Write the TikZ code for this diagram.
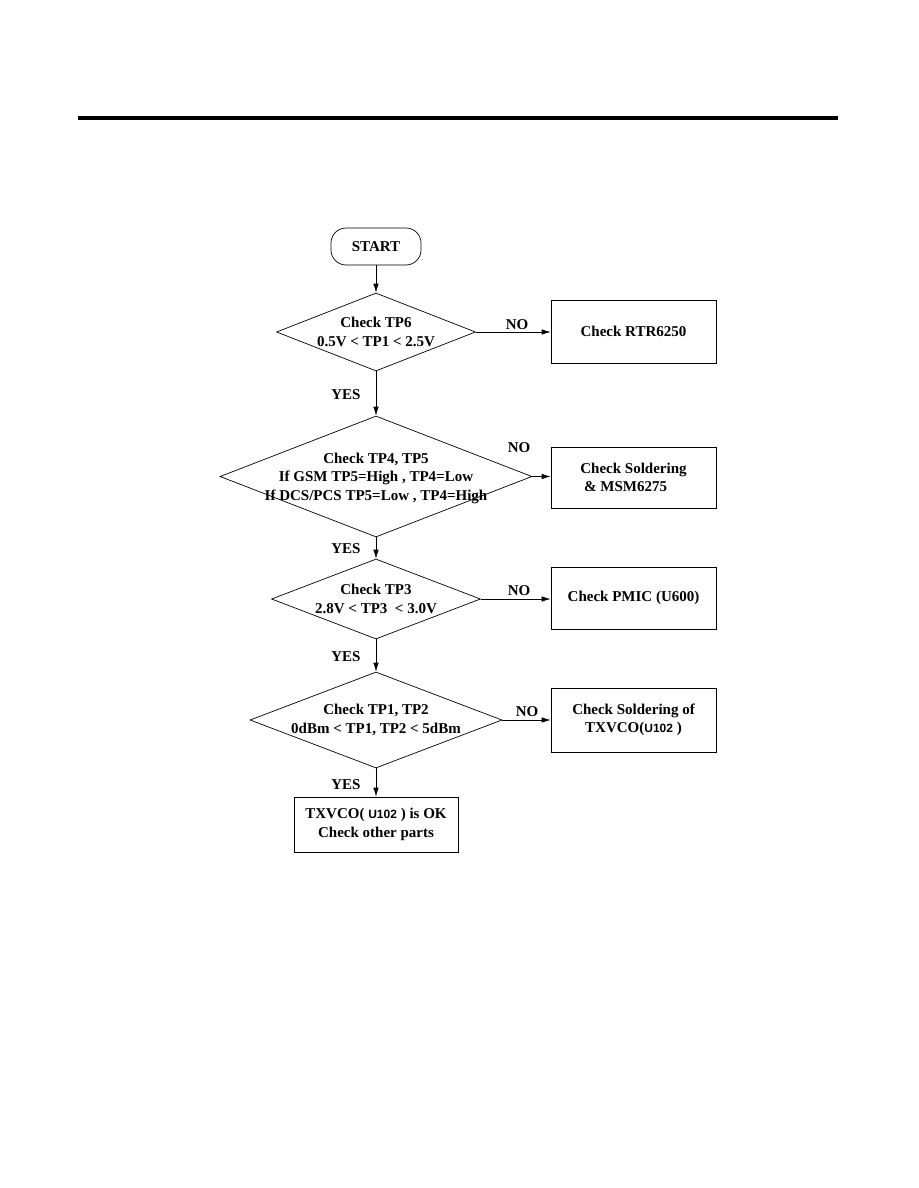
\documentclass[tikz,border=0pt]{standalone}
\usepackage{fontspec}
\setmainfont{Liberation Serif}
\newfontfamily\partfont{Liberation Sans}
\usetikzlibrary{shapes.geometric, arrows.meta}

\newcommand{\partno}[1]{{\partfont\fontsize{12}{14}\selectfont #1}}

\begin{document}
\begin{tikzpicture}[x=1pt, y=-1pt,
  every node/.style={font=\fontsize{15}{18.5}\selectfont\bfseries},
  startbox/.style={draw, line width=0.7pt, rounded corners=15pt, minimum width=90pt, minimum height=37pt, inner sep=0pt},
  checkbox/.style={draw, line width=0.7pt, minimum width=165pt, inner sep=0pt},
  decision/.style={draw, diamond, line width=0.7pt, inner sep=0pt},
  dtext/.style={align=center, inner sep=0pt},
  answer/.style={inner sep=0pt},
  flow/.style={-{Latex[length=9pt, width=5.5pt]}, line width=0.7pt},
]
  \useasboundingbox (0,0) rectangle (918,1188);

  % page rule
  \draw[line width=4pt] (78,118) -- (838,118);

  % start
  \node[startbox] (start) at (376,246.5) {START};

  % TP6
  \node[decision, minimum width=199pt, minimum height=78pt] (d1) at (376,332) {};
  \node[dtext] (t1) at (d1) {Check TP6\\0.5V < TP1 < 2.5V};
  \node[checkbox, minimum height=63pt] (b1) at (633.5,331.5) {Check RTR6250};

  % TP4, TP5
  \node[decision, minimum width=312pt, minimum height=121pt] (d2) at (376,476.5) {};
  \node[dtext] (t2) at (376,478) {Check TP4, TP5\\If GSM TP5=High , TP4=Low\\If DCS/PCS TP5=Low , TP4=High};
  \node[checkbox, minimum height=61pt, align=left] (b2) at (633.5,477.5) {Check Soldering\\~\& MSM6275};

  % TP3
  \node[decision, minimum width=209pt, minimum height=80pt] (d3) at (376,599) {};
  \node[dtext] (t3) at (d3) {Check TP3\\2.8V < TP3~ < 3.0V};
  \node[checkbox, minimum height=62pt] (b3) at (633.5,598) {Check PMIC (U600)};

  % TP1, TP2
  \node[decision, minimum width=252pt, minimum height=96pt] (d4) at (376,720) {};
  \node[dtext] (t4) at (d4) {Check TP1, TP2\\0dBm < TP1, TP2 < 5dBm};
  \node[checkbox, minimum height=64pt, align=center] (b4) at (633.5,720) {Check Soldering of\\TXVCO(\partno{U102} )};

  % end
  \node[checkbox, minimum width=164pt, minimum height=55pt, align=center] (b5) at (376,824.5) {TXVCO( \partno{U102} ) is OK\\Check other parts};

  % yes branch
  \draw[flow] (start) -- (d1);
  \draw[flow] (d1) -- (d2);
  \draw[flow] (d2) -- (d3);
  \draw[flow] (d3) -- (d4);
  \draw[flow] (d4) -- (b5);
  \node[answer] (y1) at (346,395) {YES};
  \node[answer] (y2) at (346,549) {YES};
  \node[answer] (y3) at (346,657) {YES};
  \node[answer] (y4) at (346,785) {YES};

  % no branch
  \draw[flow] (d1.east) -- (d1.east -| b1.west);
  \draw[flow] (d2.east) -- (d2.east -| b2.west);
  \draw[flow] (d3.east) -- (d3.east -| b3.west);
  \draw[flow] (d4.east) -- (d4.east -| b4.west);
  \node[answer] (n1) at (517,325) {NO};
  \node[answer] (n2) at (519,448) {NO};
  \node[answer] (n3) at (519,591) {NO};
  \node[answer] (n4) at (527,712) {NO};
\end{tikzpicture}
\end{document}
